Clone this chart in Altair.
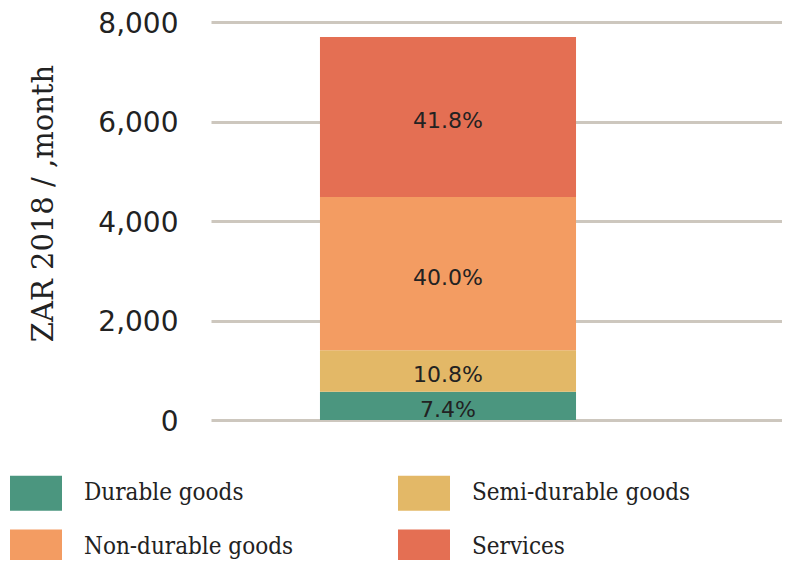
import altair as alt
import pandas as pd

categories = ["Durable goods", "Semi-durable goods", "Non-durable goods", "Services"]
values = [570, 832, 3080, 3218]
pct_labels = ["7.4%", "10.8%", "40.0%", "41.8%"]
colors = ["#4b967f", "#e3b867", "#f39c62", "#e46f53"]
legend_order = ["Durable goods", "Non-durable goods", "Semi-durable goods", "Services"]

df = pd.DataFrame({
    "group": ["Household"] * 4,
    "category": categories,
    "value": values,
    "label": pct_labels,
    "order": list(range(len(categories))),
})

SANS = "DejaVu Sans"
SERIF = "DejaVu Serif"
SERIF_C = "DejaVu Serif Condensed, DejaVu Serif"

xscale = alt.Scale(paddingInner=0, paddingOuter=0.615, align=0.346)

base = alt.Chart(df)

bars = base.mark_bar().encode(
    x=alt.X("group:N", axis=None, scale=xscale),
    y=alt.Y("value:Q", stack="zero",
            scale=alt.Scale(domain=[0, 8000]),
            axis=alt.Axis(
                values=[0, 2000, 4000, 6000, 8000], format=",.0f",
                title="ZAR 2018 / ,month",
                titleFont=SERIF, titleFontSize=29, titleFontWeight="normal",
                titleColor="#222222", titleAngle=-90,
                titleX=-168, titleY=181, titleAlign="center", titleBaseline="middle",
                labelFont=SANS, labelFontSize=28, labelColor="#222222",
                labelPadding=33, labelOffset=2, domain=False, ticks=False,
                grid=True, gridColor="#cdc7be", gridWidth=3,
            )),
    color=alt.Color("category:N",
                    scale=alt.Scale(domain=categories, range=colors),
                    legend=alt.Legend(
                        title=None, orient="none", legendX=-201, legendY=445,
                        values=legend_order,
                        columns=2, columnPadding=104, rowPadding=10,
                        symbolType="M-1,-0.67L1,-0.67L1,0.67L-1,0.67Z",
                        symbolSize=2704, symbolStrokeWidth=0, symbolOpacity=1,
                        labelFont=SERIF_C, labelFontSize=24, labelColor="#222222",
                        labelOffset=22, labelLimit=400,
                    )),
    order=alt.Order("order:Q"),
)

texts = base.transform_window(
    cum="sum(value)", sort=[alt.SortField("order")]
).transform_calculate(
    mid="datum.cum - datum.value / 2"
).mark_text(font=SANS, fontSize=22, color="#222222", baseline="middle", dy=4).encode(
    x=alt.X("group:N", scale=xscale),
    y=alt.Y("mid:Q"),
    text="label:N",
)

chart = (bars + texts).properties(
    width=571, height=398,
    autosize=alt.AutoSizeParams(type="none"),
    padding={"left": 203, "top": 14, "right": 0, "bottom": 140},
).configure(background="white").configure_view(stroke=None)

chart.save("out.html", embed_options={"renderer": "svg", "actions": False})
